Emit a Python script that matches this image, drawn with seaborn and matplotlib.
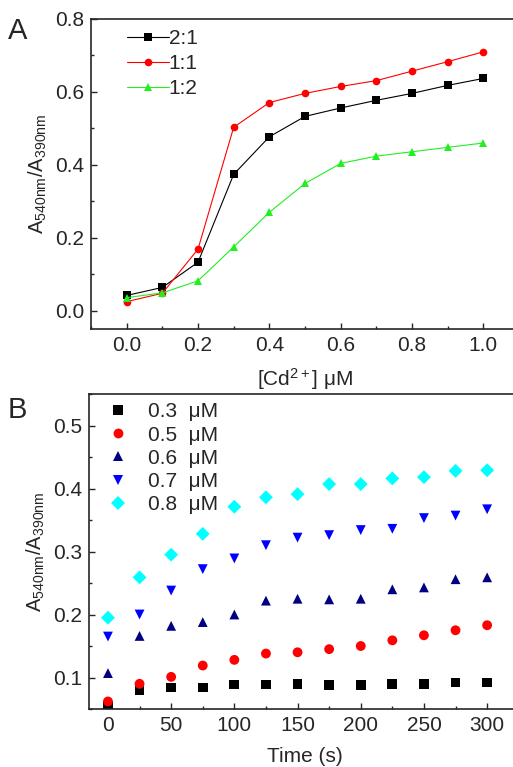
import numpy as np
import pandas as pd
import matplotlib
matplotlib.use("Agg")
import matplotlib.pyplot as plt
import seaborn as sns
from matplotlib.ticker import MultipleLocator

# Panel A: ratio vs Cd2+ concentration
cd_conc = [0.0, 0.1, 0.2, 0.3, 0.4, 0.5, 0.6, 0.7, 0.8, 0.9, 1.0]
ratio_2_1 = [0.042, 0.064, 0.133, 0.374, 0.477, 0.533, 0.556, 0.577, 0.596, 0.618, 0.637]
ratio_1_1 = [0.025, 0.048, 0.169, 0.503, 0.571, 0.596, 0.615, 0.631, 0.657, 0.683, 0.710]
ratio_1_2 = [0.036, 0.049, 0.082, 0.175, 0.270, 0.349, 0.404, 0.424, 0.436, 0.448, 0.460]
ratio_labels = ["2:1", "1:1", "1:2"]

# Panel B: ratio vs time for several Cd2+ concentrations
time_s = [0, 25, 50, 75, 100, 125, 150, 175, 200, 225, 250, 275, 300]
conc_03 = [0.055, 0.080, 0.084, 0.084, 0.089, 0.089, 0.090, 0.088, 0.088, 0.090, 0.090, 0.092, 0.092]
conc_05 = [0.062, 0.090, 0.101, 0.119, 0.128, 0.138, 0.140, 0.145, 0.150, 0.159, 0.167, 0.175, 0.183]
conc_06 = [0.107, 0.166, 0.182, 0.188, 0.200, 0.222, 0.225, 0.224, 0.225, 0.240, 0.243, 0.256, 0.259]
conc_07 = [0.165, 0.200, 0.238, 0.272, 0.289, 0.310, 0.322, 0.326, 0.334, 0.336, 0.353, 0.357, 0.367]
conc_08 = [0.195, 0.259, 0.295, 0.328, 0.371, 0.386, 0.391, 0.407, 0.407, 0.416, 0.418, 0.428, 0.429]
conc_labels = ["0.3  μM", "0.5  μM", "0.6  μM", "0.7  μM", "0.8  μM"]

sns.set_style("ticks")
plt.rcParams["font.family"] = ["Liberation Sans", "DejaVu Sans"]
plt.rcParams["mathtext.fontset"] = "custom"
plt.rcParams["mathtext.rm"] = "Liberation Sans"
plt.rcParams["mathtext.it"] = "Liberation Sans:italic"
plt.rcParams["xtick.direction"] = "in"
plt.rcParams["ytick.direction"] = "in"

df_a = pd.DataFrame({
    "x": cd_conc * 3,
    "y": ratio_2_1 + ratio_1_1 + ratio_1_2,
    "ratio": [l for l in ratio_labels for _ in cd_conc],
})
series_b = [conc_03, conc_05, conc_06, conc_07, conc_08]
df_b = pd.DataFrame({
    "t": time_s * 5,
    "y": sum(series_b, []),
    "conc": [l for l in conc_labels for _ in time_s],
})

W, H = 513, 767
fig = plt.figure(figsize=(W / 100, H / 100), dpi=100)

def frac(x0, y0, x1, y1):
    return [x0 / W, 1 - y1 / H, (x1 - x0) / W, (y1 - y0) / H]

ylab = r"A$_{\mathrm{540nm}}$/A$_{\mathrm{390nm}}$"
fs = 15

# ---- Panel A ----
ax1 = fig.add_axes(frac(91, 19, 519, 329))
sns.lineplot(data=df_a, x="x", y="y", hue="ratio", style="ratio",
             palette=["black", "#ff0000", "#22ee22"], markers=["s", "o", "^"],
             dashes=False, markersize=5.5, markeredgewidth=0, linewidth=0.8, ax=ax1)
ax1.set_xlim(-0.1, 1.1)
ax1.set_ylim(-0.05, 0.8)
ax1.xaxis.set_major_locator(MultipleLocator(0.2))
ax1.xaxis.set_minor_locator(MultipleLocator(0.1))
ax1.yaxis.set_major_locator(MultipleLocator(0.2))
ax1.yaxis.set_minor_locator(MultipleLocator(0.1))
ax1.set_xlabel(r"[Cd$^{\mathrm{2+}}$] μM", fontsize=fs, labelpad=8)
ax1.set_ylabel(ylab, fontsize=14.5, labelpad=4)
h, l = ax1.get_legend_handles_labels()
ax1.legend(h, l, loc="upper left", frameon=False, fontsize=fs, handlelength=2.0,
           handletextpad=0.0, labelspacing=0.3, borderaxespad=0.0,
           bbox_to_anchor=(0.065, 0.995))

# ---- Panel B ----
ax2 = fig.add_axes(frac(89, 394, 520, 709))
sns.scatterplot(data=df_b, x="t", y="y", hue="conc", style="conc",
                palette=["black", "#ff0000", "#000080", "#0000ff", "#00ffff"],
                markers=["s", "o", "^", "v", "D"], s=50, linewidth=0, ax=ax2)
ax2.set_xlim(-15, 326)
ax2.set_ylim(0.05, 0.55)
ax2.xaxis.set_major_locator(MultipleLocator(50))
ax2.xaxis.set_minor_locator(MultipleLocator(25))
ax2.yaxis.set_major_locator(MultipleLocator(0.1))
ax2.yaxis.set_minor_locator(MultipleLocator(0.05))
ax2.set_xlabel("Time (s)", fontsize=fs, labelpad=9)
ax2.set_ylabel(ylab, fontsize=14.5, labelpad=4)
h, l = ax2.get_legend_handles_labels()
ax2.legend(h, l, loc="upper left", frameon=False, fontsize=fs, handlelength=1.2,
           handletextpad=0.8, labelspacing=0.2, borderaxespad=0.0,
           bbox_to_anchor=(0.02, 1.0))

for ax in (ax1, ax2):
    ax.tick_params(which="major", length=4, width=1, labelsize=fs, pad=5)
    ax.tick_params(which="minor", length=2.5, width=1)
    ax.spines["right"].set_visible(False)
    for sp in ax.spines.values():
        sp.set_linewidth(1.2)

fig.text(8 / W, 1 - 31 / H, "A", fontsize=21, va="center")
fig.text(8 / W, 1 - 410 / H, "B", fontsize=21, va="center")

fig.savefig("out.png", dpi=100)
